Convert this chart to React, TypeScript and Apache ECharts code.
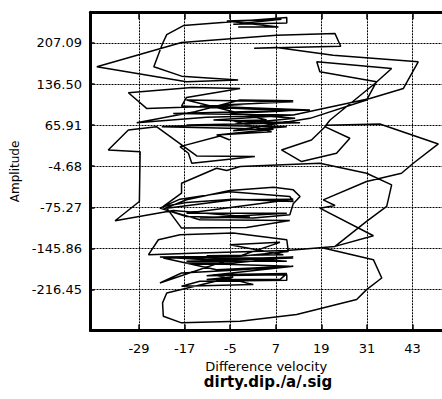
import React, { useEffect, useRef } from "react";
import * as echarts from "echarts";

// Tick values
const xTicks = [-29, -17, -5, 7, 19, 31, 43];
const yTicks = [-216.45, -145.86, -75.27, -4.68, 65.91, 136.5, 207.09];

// Trajectory segments: [difference velocity, amplitude]
const topPart = [
  [-2.9, 234.6], [7.7, 234.6], [-5.9, 244.9], [8.5, 247.7], [-4.2, 239.1], [9.9, 241.4], [9.9, 250.6],
  [-17.3, 236.9], [-21.7, 221.4], [-22.8, 206.0], [-25.1, 166.0], [-17.8, 150.0], [-2.9, 143.2],
  [-16.5, 140.3], [-40.1, 166.0], [-17.8, 207.7], [7.2, 220.3], [22.6, 223.1], [24.1, 201.4],
  [1.3, 198.0], [7.2, 199.1], [22.1, 186.0], [44.5, 174.6], [40.6, 128.9], [31.8, 111.7], [11.6, 83.2],
];
const middleBand = [
  [-11.2, 79.2], [-29.6, 70.0], [-14.3, 88.9], [-2.4, 108.9], [11.6, 107.7], [-7.7, 98.6], [-27.0, 94.6],
  [-31.8, 121.5], [-15.1, 130.6], [-2.4, 128.9], [-16.5, 113.5], [-17.8, 98.6], [10.7, 90.6], [-5.1, 86.0],
  [12.1, 77.5], [-3.7, 67.8], [-23.0, 63.2], [6.4, 58.6], [-8.6, 48.9], [5.9, 54.6], [-4.2, 73.5], [4.6, 74.6],
];
const middleDense = [
  [-16.5, 108.9], [11.6, 106.0], [-13.0, 98.6], [16.0, 91.7], [-20.0, 86.0], [11.6, 83.2], [-9.4, 74.6],
  [13.4, 70.0], [-16.5, 66.0], [9.9, 63.2], [-4.2, 56.3], [16.0, 77.5],
];
const upperRight = [
  [30.9, 108.9], [33.5, 140.3], [18.6, 157.4], [17.8, 174.6], [37.5, 163.2], [33.1, 137.4], [21.3, 74.6],
  [19.9, 63.2], [26.5, 43.2], [23.0, 17.5], [13.8, 3.2], [8.5, 23.2], [16.4, 40.3], [20.4, 65.5],
];
const rightWing = [
  [34.4, 67.8], [49.8, 33.5], [43.2, 0.3], [40.1, -16.8], [30.9, -31.1], [19.5, -62.5], [22.6, -72.2],
  [18.6, -76.8], [32.7, -124.2], [22.6, -142.5],
];
const lowerBand = [
  [9.9, -149.4], [-13.0, -153.9], [-26.5, -156.8], [-23.9, -131.1], [-18.2, -122.5], [-4.2, -119.6],
  [9.9, -131.1], [10.3, -151.1], [-2.4, -159.6], [-23.5, -160.8], [-11.2, -165.3], [11.6, -160.8],
  [-4.2, -171.1], [-16.9, -171.1], [10.7, -176.8], [-8.6, -182.5],
];
const lowerDense = [
  [-22.6, -162.5], [11.6, -162.5], [-16.5, -168.2], [9.9, -168.2], [-11.2, -158.5], [9.0, -156.8],
  [-5.1, -139.6], [8.1, -135.6],
];
const bottomBand = [
  [-23.5, -205.3], [-17.8, -188.2], [-4.2, -183.6], [11.6, -176.8], [-11.2, -192.8], [9.9, -191.1],
  [9.9, -200.8], [-13.0, -202.5], [-17.8, -211.1], [1.1, -208.2],
];
const bottomDense = [
  [-9.4, -191.1], [9.9, -189.3], [8.1, -199.6], [-11.2, -199.6], [-4.2, -195.1],
];
const bottomLoop = [
  [-21.7, -222.5], [-22.8, -239.6], [-22.6, -262.5], [-17.8, -273.9], [-2.4, -271.0], [12.5, -259.6],
  [28.3, -233.9], [30.9, -216.8], [34.9, -196.8], [32.7, -165.3], [19.5, -145.4],
];
const riseRight = [
  [22.6, -142.5], [30.9, -99.6], [36.2, -73.9], [36.6, -62.5], [37.5, -36.8], [30.9, -16.8], [18.6, 0.3],
  [-2.4, -5.4], [-5.9, -12.2], [-8.6, -8.2], [-17.8, -34.0], [-17.8, -51.1], [-22.6, -73.9],
];
const centralBand = [
  [-16.5, -67.1], [-4.2, -61.4], [11.6, -65.4], [10.7, -56.8], [-5.1, -48.8], [-18.2, -61.4], [-23.5, -76.8],
  [-16.5, -91.1], [1.1, -93.9], [10.7, -88.2], [11.6, -69.4], [13.4, -56.8], [11.6, -45.4], [6.4, -40.8],
  [-5.1, -46.5], [-16.5, -62.5], [-22.6, -78.5], [-13.0, -96.8], [10.7, -97.9], [-0.7, -109.9], [-17.8, -111.1],
];
const centralDense = [
  [-21.7, -76.8], [-4.2, -62.5], [11.6, -61.4], [-16.5, -85.4], [9.9, -85.4], [-13.0, -93.9], [0.2, -92.2],
  [-20.0, -80.8],
];
const leftPart = [
  [-35.3, -98.5], [-28.9, -65.4], [-28.7, 20.3], [-37.1, 23.2], [-31.8, 57.5], [-24.4, 63.2], [-13.8, 12.9],
  [1.5, 11.8], [-15.1, 0.3], [-16.0, 17.5], [-18.2, 28.9], [-7.7, 47.2], [-5.1, 40.3],
];

const trajectory = [
  ...topPart, ...middleBand, ...middleDense, ...upperRight, ...rightWing, ...lowerBand, ...lowerDense,
  ...bottomBand, ...bottomDense, ...bottomLoop, ...riseRight, ...centralBand, ...centralDense, ...leftPart,
];

const FONT = "DejaVu Sans";

export default function App() {
  const ref = useRef<HTMLDivElement>(null);
  useEffect(() => {
    if (!ref.current) return;
    const chart = echarts.init(ref.current, null, { renderer: "svg" });
    const xMin = -41.77;
    const xMax = 50.76;
    const gridLine = { show: true, lineStyle: { color: "#000", width: 1, type: [2, 1] as any } };
    chart.setOption({
      animation: false,
      backgroundColor: "#fff",
      grid: { left: 90.5, right: 0, top: 12.3, bottom: 68.5, containLabel: false },
      xAxis: [
        {
          type: "value",
          position: "bottom",
          min: xMin,
          max: xMax,
          name: "Difference velocity",
          nameLocation: "middle",
          nameGap: 29,
          nameTextStyle: { fontFamily: FONT, fontSize: 13, color: "#000" },
          axisLine: { show: true, onZero: false, lineStyle: { color: "#000", width: 3 } },
          axisTick: { show: true, inside: true, length: 6, customValues: xTicks, lineStyle: { color: "#000", width: 1.5 } },
          axisLabel: { customValues: xTicks, fontFamily: FONT, fontSize: 13, color: "#000", margin: 11 },
          splitLine: gridLine,
        },
        {
          type: "value",
          position: "top",
          min: xMin,
          max: xMax,
          axisLine: { show: true, onZero: false, lineStyle: { color: "#000", width: 3 } },
          axisTick: { show: true, inside: true, length: 7, customValues: xTicks, lineStyle: { color: "#000", width: 1.5 } },
          axisLabel: { show: false },
          splitLine: { show: false },
        },
      ],
      yAxis: {
        type: "value",
        min: -287.04,
        max: 259.7,
        name: "Amplitude",
        nameLocation: "middle",
        nameGap: 67,
        nameTextStyle: { fontFamily: FONT, fontSize: 12, color: "#000" },
        axisLine: { show: true, onZero: false, lineStyle: { color: "#000", width: 3 } },
        axisTick: { show: true, inside: true, length: 4, customValues: yTicks, lineStyle: { color: "#000", width: 1.5 } },
        axisLabel: {
          customValues: yTicks,
          fontFamily: FONT,
          fontSize: 13,
          color: "#000",
          margin: 8.5,
          formatter: (v: number) => v.toFixed(2),
        },
        splitLine: gridLine,
      },
      graphic: [
        {
          type: "text",
          x: 268,
          y: 382,
          style: {
            text: "dirty.dip./a/.sig",
            fontFamily: FONT,
            fontSize: 15,
            fontWeight: "bold",
            fill: "#000",
            textAlign: "center",
            textVerticalAlign: "middle",
          },
        },
      ],
      series: [
        {
          type: "line",
          data: trajectory,
          showSymbol: false,
          symbol: "none",
          smooth: false,
          lineStyle: { color: "#000", width: 1.5 },
          xAxisIndex: 0,
          yAxisIndex: 0,
          z: 3,
        },
      ],
    });
    return () => chart.dispose();
  }, []);
  return (
    <div
      ref={ref}
      style={{ position: "fixed", left: 0, top: 0, width: 442, height: 399, background: "#fff" }}
    />
  );
}
